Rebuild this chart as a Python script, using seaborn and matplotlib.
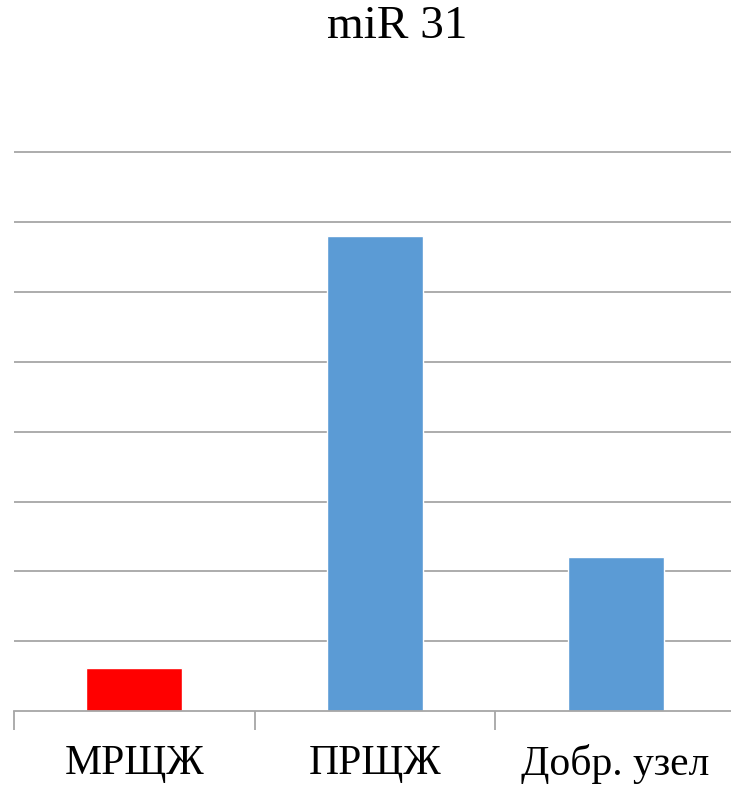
import numpy as np
import pandas as pd
import matplotlib
matplotlib.use("Agg")
import matplotlib.pyplot as plt
import seaborn as sns

categories = ["МРЩЖ", "ПРЩЖ", "Добр. узел"]
values = [0.62, 6.8, 2.2]
bar_colors = ["#ff0000", "#5b9bd5", "#5b9bd5"]

df = pd.DataFrame({"group": categories, "value": values})

sns.set_style("white")
plt.rcParams["font.family"] = ["Liberation Serif", "DejaVu Serif"]
plt.rcParams["text.color"] = "black"
plt.rcParams["xtick.color"] = "black"

fig = plt.figure(figsize=(7.31, 7.88), dpi=100)
ax = fig.add_axes([14 / 731, 1 - 711 / 788, 722 / 731, 560 / 788])

sns.barplot(data=df, x="group", y="value", hue="group", palette=bar_colors,
            width=0.4, legend=False, ax=ax, saturation=1)

ax.set_ylim(0, 8.02)
ax.set_xlim(-0.5, 2.5)
ax.set_yticks(np.arange(1, 9))
ax.yaxis.grid(True, color="#a6a6a6", linewidth=1.3)
ax.set_axisbelow(True)
ax.tick_params(axis="y", left=False, labelleft=False)
for s in ["top", "right", "left"]:
    ax.spines[s].set_visible(False)
ax.spines["bottom"].set_color("#a6a6a6")
ax.spines["bottom"].set_linewidth(1.3)

# category labels centred, tick marks at boundaries
ax.set_xticks([0, 1, 2])
ax.set_xticklabels(categories, fontsize=30, color="black")
ax.tick_params(axis="x", which="major", bottom=False, length=0, pad=24)
ax.set_xticks([-0.5, 0.5, 1.5, 2.5], minor=True)
ax.tick_params(axis="x", which="minor", bottom=True, length=14, width=1.3,
               color="#a6a6a6")
ax.set_xlabel("")
ax.set_ylabel("")

fig.text(397 / 731, 1 - 27 / 788, "miR 31", ha="center", va="center",
         fontsize=34, color="black")

fig.savefig("out.png", dpi=100)
